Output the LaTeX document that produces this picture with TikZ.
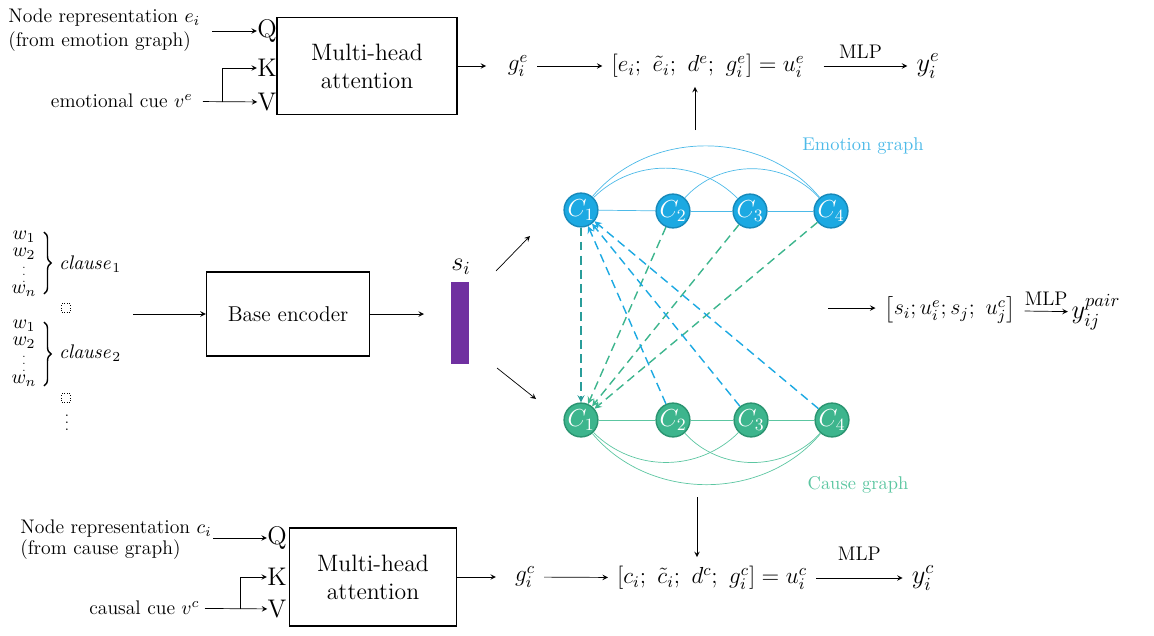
\RequirePackage{fix-cm}
\documentclass[tikz,border=0pt]{standalone}
\usepackage{amsmath,amssymb}
\usepackage{tikz}
\usetikzlibrary{decorations.pathreplacing}

\definecolor{emofill}{HTML}{1CA9E2}
\definecolor{emodraw}{HTML}{1689BA}
\definecolor{emoline}{HTML}{4DBAE8}
\definecolor{caufill}{HTML}{3DB58D}
\definecolor{caudraw}{HTML}{2A9470}
\definecolor{cauline}{HTML}{5CC6A1}
\definecolor{pairline}{HTML}{2A9D9A}
\definecolor{sbar}{HTML}{7030A0}

\begin{document}
\begin{tikzpicture}[x=0.02cm,y=-0.02cm,
	lbl/.style={font=\fontsize{11.2}{13.5}\selectfont,inner sep=0pt},
	mth/.style={font=\fontsize{13.2}{15}\selectfont,inner sep=5pt},
	qkv/.style={font=\fontsize{14.5}{17}\selectfont,inner sep=0pt},
	attbox/.style={draw,thick,align=center,font=\fontsize{13.5}{16}\selectfont},
	emo/.style={circle,fill=emofill,draw=emodraw,thick,minimum size=0.6cm,inner sep=0pt,text=white,font=\fontsize{14}{14}\selectfont},
	cau/.style={circle,fill=caufill,draw=caudraw,thick,minimum size=0.6cm,inner sep=0pt,text=white,font=\fontsize{14}{14}\selectfont},
	bracefig/.style={decorate,decoration={brace,amplitude=4pt},thick}]
	\useasboundingbox (0,0) rectangle (1154,636);

	% emotion branch (top)
	\node[lbl,anchor=west,align=left] (nodeE) at (8,30) {Node representation \(e_i\)\\(from emotion graph)};
	\node[lbl,anchor=east] (cueE) at (193,101) {emotional cue \(v^e\)};
	\node[qkv] (Qe) at (267,31) {Q};
	\node[qkv] (Ke) at (267,68) {K};
	\node[qkv] (Ve) at (267,102) {V};
	\node[attbox,minimum width=3.6cm,minimum height=1.94cm] (attE) at (367,66) {Multi-head\\attention};
	\coordinate (inE) at (212,31);
	\coordinate (brE) at (222,102);
	\node[mth] (gE) at (518,66) {\(g_i^e\)};
	\node[mth] (uE) at (708,66) {\([e_i;\ \tilde{e}_i;\ d^e;\ g_i^e] = u_i^e\)};
	\node[mth,font=\fontsize{15}{15}\selectfont] (yE) at (928,66) {\(y_i^e\)};
	\coordinate (upE) at (695,130);
	\path[-stealth]
	(inE) edge (Qe)
	(cueE) edge[shorten <=0.2cm] (Ve)
	(attE) edge[shorten >=0.25cm] (gE)
	(gE) edge (uE)
	(uE) edge[shorten <=0.2cm] node [above,lbl,yshift=4pt] {MLP} (yE)
	(upE) edge (upE |- uE.south);
	\draw[-stealth] (brE) |- (Ke);

	% cause branch (bottom)
	\node[lbl,anchor=west,align=left,font=\fontsize{11.2}{12}\selectfont] (nodeC) at (20,540) {Node representation \(c_i\)\\(from cause graph)};
	\node[lbl,anchor=east] (cueC) at (200,608) {causal cue \(v^c\)};
	\node[qkv] (Qc) at (277,538) {Q};
	\node[qkv] (Kc) at (277,577) {K};
	\node[qkv] (Vc) at (277,609) {V};
	\node[attbox,minimum width=3.34cm,minimum height=1.96cm] (attC) at (373,577) {Multi-head\\attention};
	\coordinate (inC) at (213,538);
	\coordinate (brC) at (240,609);
	\node[mth] (gC) at (525,577) {\(g_i^c\)};
	\node[mth] (uC) at (712,578) {\([c_i;\ \tilde{c}_i;\ d^c;\ g_i^c] = u_i^c\)};
	\node[mth,font=\fontsize{15}{15}\selectfont] (yC) at (923,578) {\(y_i^c\)};
	\coordinate (dnC) at (697,497);
	\path[-stealth]
	(inC) edge (Qc)
	(cueC) edge[shorten <=0.1cm] (Vc)
	(attC) edge[shorten >=0.2cm] (gC)
	(gC) edge (uC)
	(uC) edge node [above,lbl,yshift=10pt] {MLP} (yC)
	(dnC) edge (dnC |- uC.north);
	\draw[-stealth] (brC) |- (Kc);

	% clauses and encoder
	\node[lbl] (w11) at (24,237) {\(w_1\)};
	\node[lbl] (w12) at (24,254) {\(w_2\)};
	\node[lbl,font=\fontsize{6}{6}\selectfont] (w1d) at (24,270) {\(\vdots\)};
	\node[lbl] (w1n) at (24,291) {\(w_n\)};
	\draw[bracefig] (44,232) -- (44,294);
	\node[lbl] (cl1) at (90,264) {\(\mathit{clause}_1\)};
	\node[draw,densely dotted,minimum size=0.17cm,inner sep=0pt] (sq1) at (66,308) {};
	\node[lbl] (w21) at (24,326) {\(w_1\)};
	\node[lbl] (w22) at (24,343) {\(w_2\)};
	\node[lbl,font=\fontsize{6}{6}\selectfont] (w2d) at (24,359) {\(\vdots\)};
	\node[lbl] (w2n) at (24,381) {\(w_n\)};
	\draw[bracefig] (44,322) -- (44,386);
	\node[lbl] (cl2) at (90,353) {\(\mathit{clause}_2\)};
	\node[draw,densely dotted,minimum size=0.17cm,inner sep=0pt] (sq2) at (66,398) {};
	\node[lbl,font=\fontsize{8}{8}\selectfont] (vd) at (67,417) {\(\vdots\)};

	\node[attbox,font=\fontsize{12.2}{15}\selectfont,minimum width=3.26cm,minimum height=1.68cm] (enc) at (288,314) {Base encoder};
	\node[fill=sbar,minimum width=0.36cm,minimum height=1.64cm,inner sep=0pt] (sBar) at (460,323) {};
	\node[lbl,font=\fontsize{15}{15}\selectfont] (sLbl) at (461,267) {\(s_i\)};
	\coordinate (inEnc) at (133,314);
	\coordinate (outEnc) at (424,314);
	\coordinate (upA) at (496,271);
	\coordinate (upB) at (530,236);
	\coordinate (dnA) at (497,368);
	\coordinate (dnB) at (536,399);
	\path[-stealth]
	(inEnc) edge (enc)
	(enc) edge (outEnc)
	(upA) edge (upB)
	(dnA) edge (dnB);

	% the two graphs
	\node[emo] (e1) at (581,210) {\(C_1\)};
	\node[emo] (e2) at (673,211) {\(C_2\)};
	\node[emo] (e3) at (750,211) {\(C_3\)};
	\node[emo] (e4) at (831,211) {\(C_4\)};
	\node[cau] (c1) at (581,420) {\(C_1\)};
	\node[cau] (c2) at (673,420) {\(C_2\)};
	\node[cau] (c3) at (751,420) {\(C_3\)};
	\node[cau] (c4) at (832,420) {\(C_4\)};
	\node[lbl,text=emoline,font=\fontsize{10.5}{13}\selectfont] (emoG) at (863,146) {Emotion graph};
	\node[lbl,text=cauline,font=\fontsize{10.5}{13}\selectfont] (cauG) at (858,485) {Cause graph};

	\path[draw=emoline]
	(e1) edge (e2) (e2) edge (e3) (e3) edge (e4)
	(e1) edge[bend left=50] (e4)
	(e1) edge[bend left=45] (e3)
	(e2) edge[bend left=48] (e4);
	\path[draw=cauline]
	(c1) edge (c2) (c2) edge (c3) (c3) edge (c4)
	(c1) edge[bend right=50] (c4)
	(c1) edge[bend right=45] (c3)
	(c2) edge[bend right=48] (c4);

	\path[-stealth,thick,dash pattern=on 5pt off 3pt]
	(e2) edge[draw=caufill] (c1)
	(e3) edge[draw=caufill] (c1)
	(e4) edge[draw=caufill] (c1)
	(c2) edge[draw=emofill] (e1)
	(c3) edge[draw=emofill] (e1)
	(c4) edge[draw=emofill] (e1)
	(e1) edge[draw=pairline] (c1);

	% pair prediction
	\coordinate (inP) at (828,308);
	\node[font=\fontsize{12.5}{14}\selectfont,inner sep=5pt] (pair) at (950,310) {\(\big[s_i; u_i^e; s_j;\ u_j^c\big]\)};
	\node[font=\fontsize{15}{15}\selectfont,inner sep=2pt] (yP) at (1096,312) {\(y_{ij}^{pair}\)};
	\path[-stealth]
	(inP) edge (inP -| pair.west)
	(pair) edge node [above,lbl,yshift=3pt] {MLP} (yP);
\end{tikzpicture}
\end{document}
